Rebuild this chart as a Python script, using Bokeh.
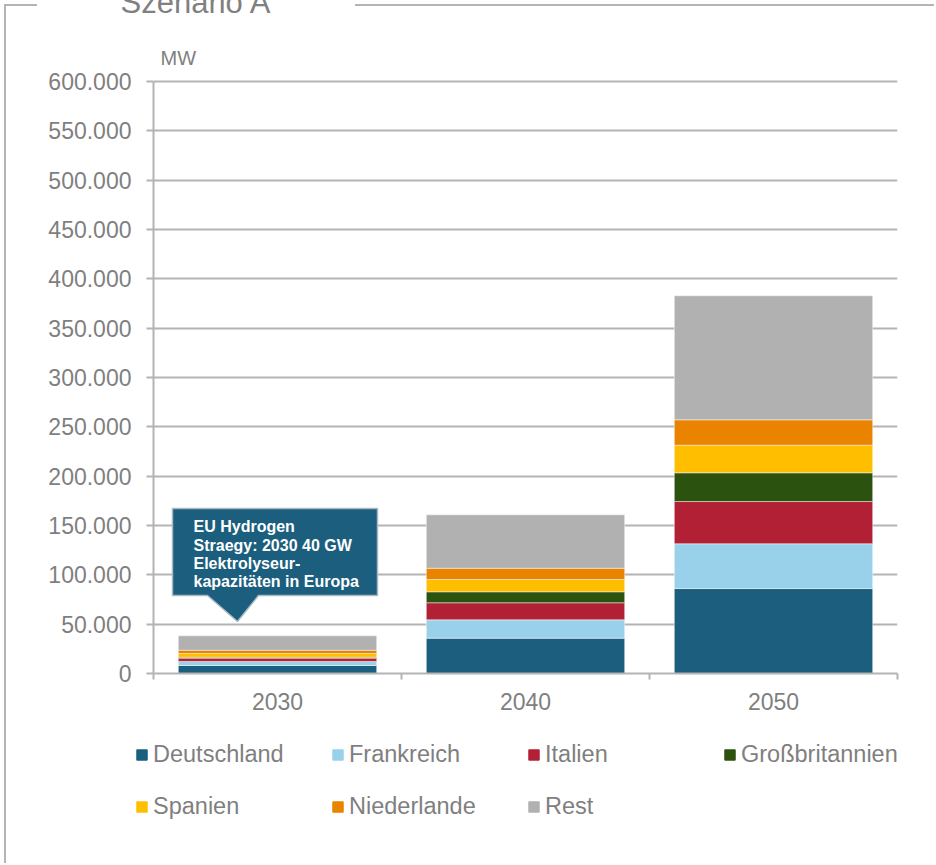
import numpy as np
from bokeh.plotting import figure
from bokeh.layouts import column
from bokeh.models import (Range1d, FixedTicker, Legend, LegendItem, Label,
                          ColumnDataSource)
from bokeh.core.properties import value
from bokeh.embed import file_html
from bokeh.resources import INLINE

# ---------------- data ----------------
years = ["2030", "2040", "2050"]
countries = ["Deutschland", "Frankreich", "Italien", "Großbritannien",
             "Spanien", "Niederlande", "Rest"]
deutschland = [8100, 35800, 86100]
frankreich = [4100, 18600, 45400]
italien = [3300, 17300, 42800]
grossbritannien = [1000, 11100, 29100]
spanien = [3800, 12500, 28000]
niederlande = [3300, 11400, 25700]
rest = [14600, 54100, 125700]
colors = ["#1b5e7e", "#99d1ea", "#b22036", "#2c520f", "#ffbf00", "#e98300", "#b1b1b1"]

y_ticks = [0, 50000, 100000, 150000, 200000, 250000, 300000,
           350000, 400000, 450000, 500000, 550000, 600000]
y_tick_labels = ["0", "50.000", "100.000", "150.000", "200.000", "250.000", "300.000",
                 "350.000", "400.000", "450.000", "500.000", "550.000", "600.000"]

title_text = "Szenario A"
unit_text = "MW"
callout_lines = ["EU Hydrogen", "Straegy: 2030 40 GW", "Elektrolyseur-",
                 "kapazitäten in Europa"]

# ---------------- layout (page pixels) ----------------
SHIFT = 19                 # main canvas is pulled up by this many px
FRAME_L, FRAME_R = 153, 897
FRAME_TOP_PAGE = 21        # frame extends above 600.000 (axis bounded)
Y600_PAGE, Y0_PAGE = 81, 673
MAIN_BOTTOM_PAGE = 725     # where the legend strip begins
LEG_H = 138                # legend strip height
CANVAS_W = 934
Y_MAX = 600000
X_MAX = len(years)
GRAY = "#b4b4b4"
TXT = "#7f7f7f"
FONT = "Liberation Sans"

PX_PER_Y = (Y0_PAGE - Y600_PAGE) / Y_MAX
Y_TOP = (Y0_PAGE - FRAME_TOP_PAGE) / PX_PER_Y


def px_x(px):
    return (px - FRAME_L) / (FRAME_R - FRAME_L) * X_MAX


def px_y(py):
    return (Y0_PAGE - py) / PX_PER_Y


def box_lines(top_offset, with_top):
    grad = "linear-gradient(#b4b4b4,#b4b4b4)"
    if with_top:
        return {
            "background-image": f"{grad}, {grad}, {grad}",
            "background-size": "2px 100%, 33px 2px, 700px 2px",
            "background-position": (f"4px {top_offset}px, 4px {top_offset}px, "
                                    f"355px {top_offset}px"),
            "background-repeat": "no-repeat",
        }
    return {
        "background-image": grad,
        "background-size": "2px 100%",
        "background-position": "4px 0px",
        "background-repeat": "no-repeat",
    }


frame_top = FRAME_TOP_PAGE + SHIFT
frame_bottom = Y0_PAGE + SHIFT
main_h = MAIN_BOTTOM_PAGE + SHIFT

p = figure(frame_width=FRAME_R - FRAME_L, frame_height=frame_bottom - frame_top,
           min_border_left=FRAME_L, min_border_right=CANVAS_W - FRAME_R,
           min_border_top=frame_top, min_border_bottom=main_h - frame_bottom,
           x_range=Range1d(0, X_MAX), y_range=Range1d(0, Y_TOP),
           output_backend="svg", toolbar_location=None)

styles = {"margin-top": f"-{SHIFT}px"}
styles.update(box_lines(4 + SHIFT, True))
p.styles = styles
p.outline_line_color = None
p.background_fill_color = "white"
p.border_fill_color = None

x_centers = [i + 0.5 for i in range(len(years))]
x_bounds = [float(i) for i in range(len(years) + 1)]

series = [deutschland, frankreich, italien, grossbritannien, spanien, niederlande, rest]
data = dict(x=x_centers)
for name, vals in zip(countries, series):
    data[name] = vals
source = ColumnDataSource(data)

bar_style = dict(x="x", width=0.8, color=colors, source=source,
                 line_color="white", line_alpha=0.45, line_width=1)
renderers = p.vbar_stack(countries, **bar_style)

# ---------------- axes ----------------
p.xgrid.visible = False
p.ygrid.grid_line_color = GRAY
p.ygrid.grid_line_width = 2

p.yaxis.ticker = FixedTicker(ticks=y_ticks)
p.yaxis.major_label_overrides = dict(zip(y_ticks, y_tick_labels))
p.yaxis.bounds = (0, Y_MAX)
p.xaxis.ticker = FixedTicker(ticks=x_centers, minor_ticks=x_bounds)
p.xaxis.major_label_overrides = dict(zip(x_centers, years))

for ax in (p.xaxis[0], p.yaxis[0]):
    ax.axis_line_color = GRAY
    ax.axis_line_width = 2
    ax.major_tick_line_color = GRAY
    ax.major_tick_line_width = 2
    ax.minor_tick_line_color = GRAY
    ax.minor_tick_line_width = 2
    ax.major_label_text_font = FONT
    ax.major_label_text_font_size = "23px"
    ax.major_label_text_color = TXT

p.yaxis.major_tick_out = 7
p.yaxis.major_tick_in = 0
p.yaxis.minor_tick_out = 0
p.yaxis.minor_tick_in = 0
p.yaxis.major_label_standoff = 15

p.xaxis.major_tick_out = 0
p.xaxis.major_tick_in = 0
p.xaxis.minor_tick_out = 6
p.xaxis.minor_tick_in = 0
p.xaxis.major_label_standoff = 13

# ---------------- title ----------------
p.title.text = title_text
p.title.align = "left"
p.title.offset = 120 - FRAME_L
p.title.standoff = 0
p.title.vertical_align = "top"
p.title.text_font = FONT
p.title.text_font_size = "31px"
p.title.text_font_style = "normal"
p.title.text_color = "#808080"

# ---------------- unit label ----------------
p.add_layout(Label(x=px_x(160), y=px_y(57.5), text=unit_text, text_align="left",
                   text_baseline="alphabetic", text_font=FONT, text_font_size="20px",
                   text_color=TXT))

# ---------------- callout ----------------
cx = [px_x(v) for v in (172, 377, 377, 258, 237, 207, 172)]
cy = [px_y(v) for v in (508, 508, 595, 595, 621, 595, 595)]
p.patch(cx, cy, fill_color="#1b5e7e", line_color="#a9b9c4", line_width=1.5)

base = 526.2
pitch = 18.3
p.text(x=[px_x(193)] * len(callout_lines),
       y=[px_y(base + i * pitch) for i in range(len(callout_lines))],
       text=callout_lines, text_font=value(FONT), text_font_style="bold",
       text_font_size="16px", text_color="white", text_baseline="alphabetic",
       text_align="left")

# ---------------- legend strip ----------------
# the same stacked bars sit below this strip's visible y range; they only key the legend
pl = figure(frame_width=CANVAS_W, frame_height=LEG_H, min_border=0,
            x_range=Range1d(0, X_MAX), y_range=Range1d(Y_MAX + 100000, 2 * Y_MAX + 100000),
            x_axis_location=None, y_axis_location=None,
            output_backend="svg", toolbar_location=None)
pl.styles = box_lines(0, False)
pl.grid.visible = False
pl.outline_line_color = None
pl.background_fill_color = None
pl.border_fill_color = None

swatches = pl.vbar_stack(countries, **bar_style)
for r in swatches:
    r.glyph.line_color = r.glyph.fill_color
    r.glyph.line_alpha = 1.0

items = [LegendItem(label=c, renderers=[r]) for c, r in zip(countries, swatches)]
row1_center = 754 - MAIN_BOTTOM_PAGE
legend = Legend(items=items, orientation="horizontal", ncols=4,
                location=(135, LEG_H - (row1_center - 13.5) - 79),
                glyph_width=13, glyph_height=13,
                label_standoff=5, label_width=153, label_height=13, spacing=25,
                padding=0, margin=0,
                border_line_alpha=0, background_fill_alpha=0,
                label_text_font=FONT, label_text_font_size="23.5px",
                label_text_color=TXT)
pl.add_layout(legend)

layout = column(p, pl, spacing=0)
open("out.html", "w").write(file_html(layout, INLINE))
